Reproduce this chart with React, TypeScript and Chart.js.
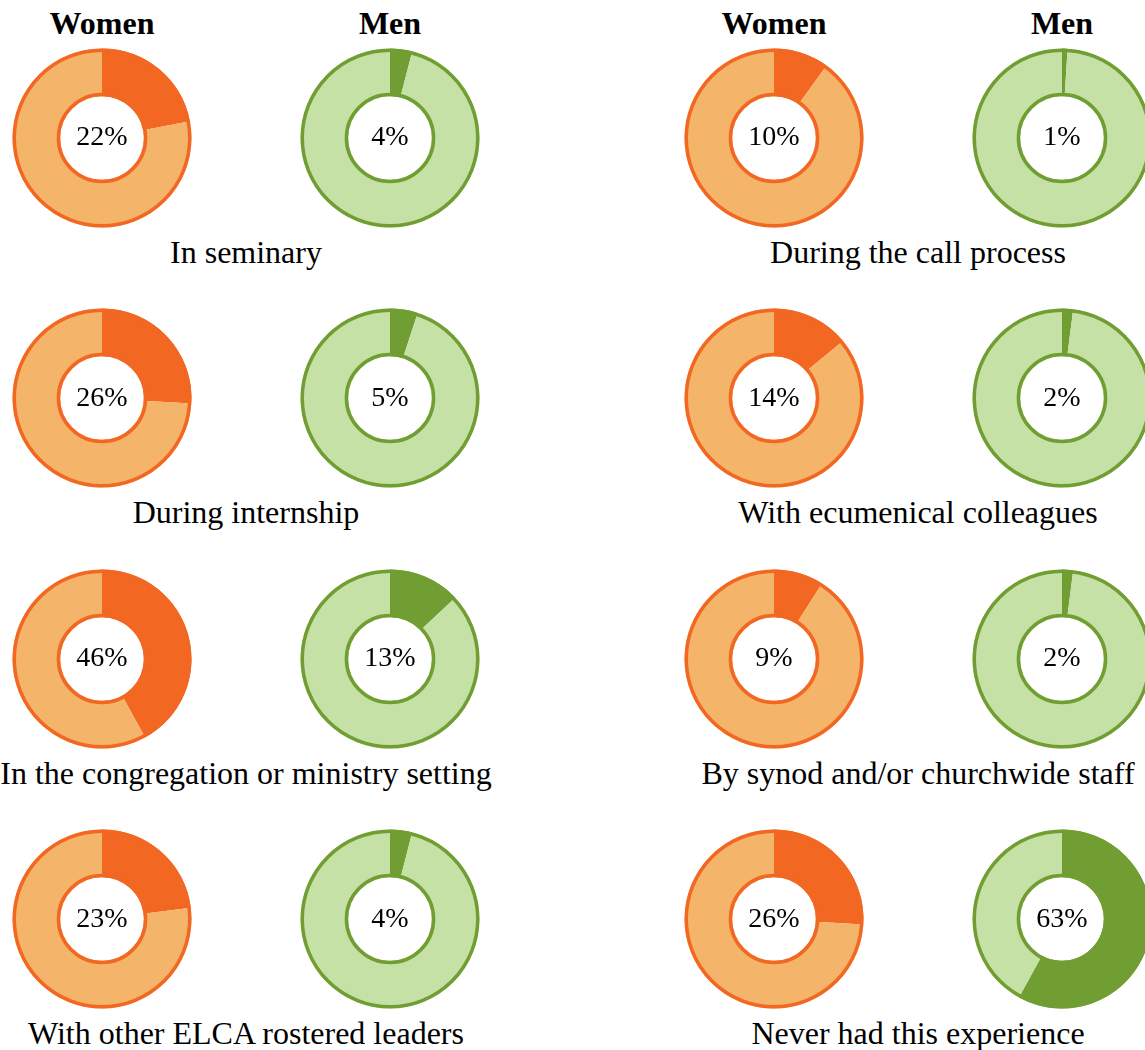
import React, { useEffect, useRef } from "react";
import { Chart, registerables } from "chart.js";

Chart.register(...registerables);

// ---------- data ----------
const categories: string[] = [
  "In seminary",
  "During the call process",
  "During internship",
  "With ecumenical colleagues",
  "In the congregation or ministry setting",
  "By synod and/or churchwide staff",
  "With other ELCA rostered leaders",
  "Never had this experience",
];
// printed percentages
const womenLabels: string[] = ["22%", "10%", "26%", "14%", "46%", "9%", "23%", "26%"];
const menLabels: string[] = ["4%", "1%", "5%", "2%", "13%", "2%", "4%", "63%"];
// slice shares as drawn in the reference rings
const womenValues: number[] = [22, 10, 26, 14, 42, 9, 23, 26];
const menValues: number[] = [4, 1, 5, 2, 13, 2, 4, 58];
const groupHeaders: string[] = ["Women", "Men"];

// ---------- styles ----------
const ORANGE_DARK = "#F26722";
const ORANGE_LIGHT = "#F4B46A";
const GREEN_DARK = "#719E33";
const GREEN_LIGHT = "#C6E1A6";

const COL_X: number[][] = [
  [102, 390],
  [774, 1062],
];
const ROW_Y: number[] = [137.5, 398, 658.5, 919];
const SIZE = 184;
const OUTER_R = 89.5;
const INNER_R = 43;
const RING_LINE = 3.5;
const FONT = '"Liberation Serif", "Times New Roman", Times, serif';

const ringBorder = {
  id: "ringBorder",
  afterDatasetsDraw(chart: any, _args: any, opts: any) {
    const arc = chart.getDatasetMeta(0).data[0];
    if (!arc) return;
    const { x, y, outerRadius, innerRadius } = arc.getProps(
      ["x", "y", "outerRadius", "innerRadius"],
      true
    );
    const ctx = chart.ctx;
    ctx.save();
    ctx.strokeStyle = opts.color;
    ctx.lineWidth = opts.width;
    ctx.beginPath();
    ctx.arc(x, y, outerRadius - opts.width / 2, 0, Math.PI * 2);
    ctx.stroke();
    ctx.beginPath();
    ctx.arc(x, y, innerRadius + opts.width / 2, 0, Math.PI * 2);
    ctx.stroke();
    ctx.restore();
  },
};

function Donut(props: { value: number; dark: string; light: string; cx: number; cy: number }) {
  const { value, dark, light, cx, cy } = props;
  const ref = useRef<HTMLCanvasElement>(null);
  useEffect(() => {
    if (!ref.current) return;
    const chart = new Chart(ref.current, {
      type: "doughnut",
      data: {
        labels: ["Yes", "No"],
        datasets: [
          {
            data: [value, 100 - value],
            backgroundColor: [dark, light],
            borderWidth: 0,
          },
        ],
      },
      options: {
        animation: false,
        responsive: false,
        events: [],
        radius: OUTER_R,
        cutout: INNER_R,
        layout: { padding: 0 },
        plugins: {
          legend: { display: false },
          tooltip: { enabled: false },
          // @ts-ignore
          ringBorder: { color: dark, width: RING_LINE },
        },
      } as any,
      plugins: [ringBorder as any],
    });
    return () => chart.destroy();
  }, [value, dark, light]);
  return (
    <canvas
      ref={ref}
      width={SIZE}
      height={SIZE}
      style={{
        position: "absolute",
        left: cx - SIZE / 2,
        top: cy - SIZE / 2,
        width: SIZE,
        height: SIZE,
      }}
    />
  );
}

function Text(props: { x: number; baseline: number; size: number; bold?: boolean; children: React.ReactNode }) {
  const { x, baseline, size, bold, children } = props;
  return (
    <div
      style={{
        position: "absolute",
        left: x - 300,
        width: 600,
        top: baseline - 0.8375 * size,
        fontSize: size,
        lineHeight: `${size}px`,
        fontWeight: bold ? 700 : 400,
        textAlign: "center",
        whiteSpace: "nowrap",
        fontFamily: FONT,
        color: "#000",
      }}
    >
      {children}
    </div>
  );
}

export default function App() {
  const items: React.ReactNode[] = [];
  for (let g = 0; g < 2; g++) {
    for (let s = 0; s < 2; s++) {
      items.push(
        <Text key={`h-${g}-${s}`} x={COL_X[g][s]} baseline={34} size={32} bold>
          {groupHeaders[s]}
        </Text>
      );
    }
  }
  categories.forEach((cat, i) => {
    const row = Math.floor(i / 2);
    const g = i % 2;
    const cy = ROW_Y[row];
    const wx = COL_X[g][0];
    const mx = COL_X[g][1];
    items.push(
      <Donut key={`w-${i}`} value={womenValues[i]} dark={ORANGE_DARK} light={ORANGE_LIGHT} cx={wx} cy={cy} />
    );
    items.push(
      <Donut key={`m-${i}`} value={menValues[i]} dark={GREEN_DARK} light={GREEN_LIGHT} cx={mx} cy={cy} />
    );
    items.push(
      <Text key={`wp-${i}`} x={wx} baseline={cy + 8} size={28}>
        {womenLabels[i]}
      </Text>
    );
    items.push(
      <Text key={`mp-${i}`} x={mx} baseline={cy + 8} size={28}>
        {menLabels[i]}
      </Text>
    );
    items.push(
      <Text key={`c-${i}`} x={(wx + mx) / 2} baseline={cy + 125} size={32}>
        {cat}
      </Text>
    );
  });
  return (
    <div
      style={{
        position: "fixed",
        left: 0,
        top: 0,
        width: 1145,
        height: 1050,
        overflow: "hidden",
        background: "#ffffff",
      }}
    >
      {items}
    </div>
  );
}
